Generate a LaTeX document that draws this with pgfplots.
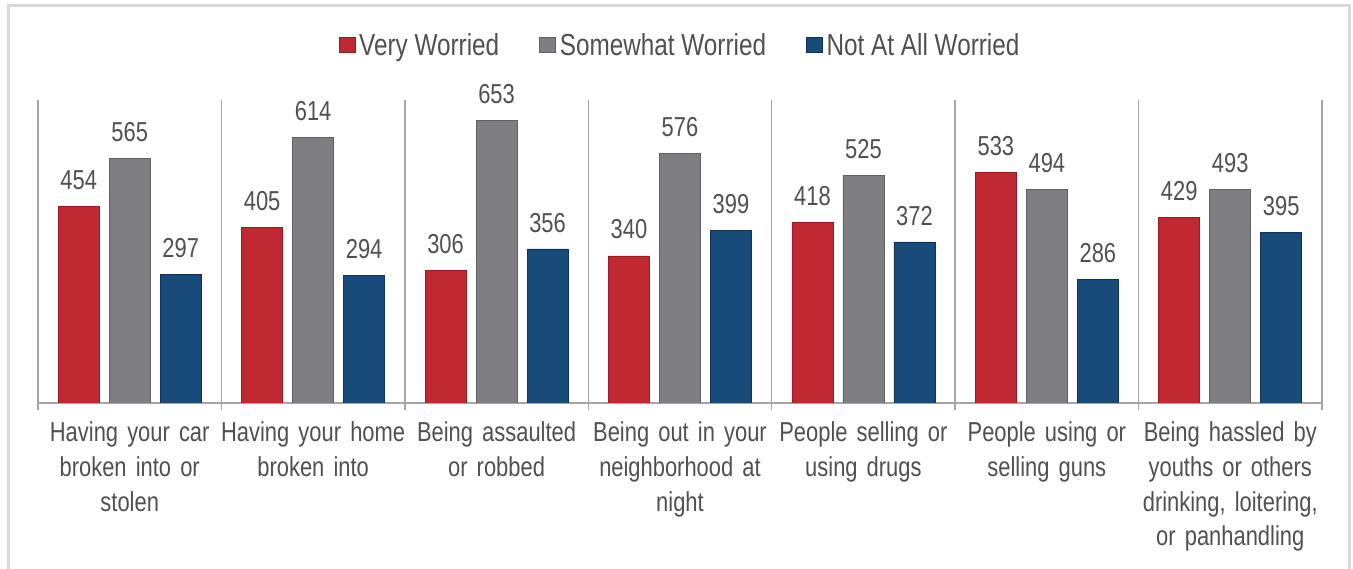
\documentclass[border=0pt]{standalone}
\usepackage{pgfplots}
\pgfplotsset{compat=1.18}
\usepackage{fontspec}
\setmainfont{Liberation Sans}[FakeStretch=0.8]
\definecolor{redbar}{RGB}{192,40,50}
\definecolor{rededge}{RGB}{150,25,35}
\definecolor{graybar}{RGB}{126,126,131}
\definecolor{grayedge}{RGB}{95,95,100}
\definecolor{bluebar}{RGB}{24,74,122}
\definecolor{blueedge}{RGB}{15,50,85}
\definecolor{txt}{RGB}{80,80,80}
\definecolor{axgray}{RGB}{166,166,166}
\definecolor{framegray}{RGB}{217,217,217}
\begin{document}
\begin{tikzpicture}
\useasboundingbox (0bp,0bp) rectangle (1353bp,569bp);
\draw[framegray, line width=3bp] (8bp,0bp) -- (8bp,563bp) -- (1349.5bp,563bp) -- (1349.5bp,0bp);
\begin{axis}[
  at={(38bp,166bp)}, anchor=south west,
  scale only axis, width=1284bp, height=303bp,
  ymin=0, ymax=700, xmin=-0.5, xmax=6.5,
  axis x line*=bottom, axis y line=none,
  axis line style={axgray, line width=1.5bp},
  ybar=10bp, bar width=41bp,
  xtick={0,...,6},
  major tick length=0pt,
  xticklabels={{Having your car\\broken into or\\stolen},
               {Having your home\\broken into},
               {Being assaulted\\or robbed},
               {Being out in your\\neighborhood at\\night},
               {People selling or\\using drugs},
               {People using or\\selling guns},
               {Being hassled by\\youths or others\\drinking, loitering,\\or panhandling}},
  xticklabel style={align=center, text width=190bp, text=txt,
     font=\fontsize{27.5}{35}\selectfont, yshift=-15bp},
  extra x ticks={-0.5,0.5,1.5,2.5,3.5,4.5,5.5,6.5},
  extra x tick labels={},
  extra x tick style={grid=major, tick align=outside, major tick length=7bp,
     major grid style={axgray, line width=1.5bp},
     tick style={axgray, line width=1.5bp}},
  nodes near coords,
  /pgf/number format/assume math mode=true,
  every node near coord/.append style={text=txt, font=\fontsize{27.5}{30}\selectfont, yshift=13bp},
  legend columns=3,
  legend style={at={(0.5,1.1815)}, anchor=center, draw=none, fill=none,
     font=\fontsize{30.5}{32}\selectfont, text=txt,
     /tikz/every odd column/.append style={column sep=2bp},
     /tikz/every even column/.append style={column sep=38bp}},
  legend image code/.code={\draw[#1, line width=0.6bp] (0bp,-7.5bp) rectangle (16bp,7.5bp);},
]
\addplot[fill=redbar, draw=rededge, line width=0.6bp] coordinates {(0,454) (1,405) (2,306) (3,340) (4,418) (5,533) (6,429)};
\addplot[fill=graybar, draw=grayedge, line width=0.6bp] coordinates {(0,565) (1,614) (2,653) (3,576) (4,525) (5,494) (6,493)};
\addplot[fill=bluebar, draw=blueedge, line width=0.6bp] coordinates {(0,297) (1,294) (2,356) (3,399) (4,372) (5,286) (6,395)};
\legend{Very Worried, Somewhat Worried, Not At All Worried}
\end{axis}
\end{tikzpicture}
\end{document}
